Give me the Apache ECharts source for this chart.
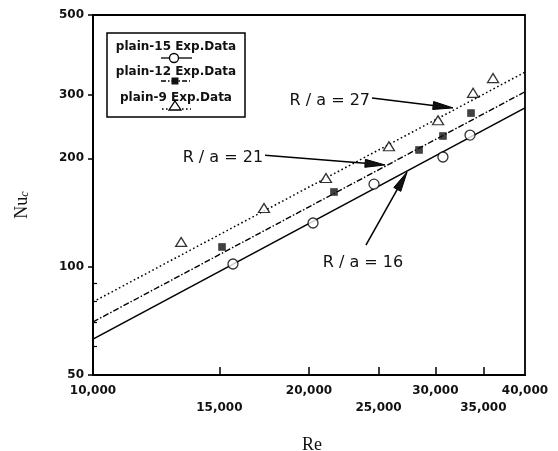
<!DOCTYPE html>
<html><head><meta charset="utf-8">
<script src="https://cdn.jsdelivr.net/npm/echarts@6/dist/echarts.min.js"></script>
<style>html,body{margin:0;padding:0;background:#fff}#c{width:558px;height:451px}</style>
</head><body><div id="c"></div>
<script>
// ---- tick values / labels ----
const xTickValues = [10000, 15000, 20000, 25000, 30000, 35000, 40000];
const xTickLabels = ['10,000', '15,000', '20,000', '25,000', '30,000', '35,000', '40,000'];
const xLowerRow = [15000, 25000, 35000];
const xInnerTicks = [15000, 20000, 25000, 30000, 35000];
const yTickValues = [50, 100, 200, 300, 500];
const yTickLabels = ['50', '100', '200', '300', '500'];
const yMinorTicks = [60, 70, 80, 90];

// ---- experimental data ----
const plain15Re = [15670, 20260, 24640, 30740, 33530];
const plain15Nu = [101.7, 132.2, 169.5, 201.6, 232];
const plain12Re = [15130, 21670, 28470, 30740, 33640];
const plain12Nu = [113.4, 161.2, 210.9, 230.6, 267];
const plain9Re = [13270, 17310, 21120, 25850, 30260, 33860, 36100];
const plain9Nu = [117.1, 145.5, 176.3, 216, 255, 304, 334];

// ---- correlation lines ----
const fitRe = [10000, 40000];
const fit16Nu = [62.9, 276];
const fit21Nu = [70.2, 306];
const fit27Nu = [79.8, 347];

// ---- annotations ----
const annoLabels = ['R / a = 16', 'R / a = 21', 'R / a = 27'];
const arrowFrom = [[24010, 114.8], [17370, 204], [24480, 294]];
const arrowTo = [[27400, 183.2], [25530, 191.6], [31750, 276]];

const legendNames = ['plain-15 Exp.Data', 'plain-12 Exp.Data', 'plain-9 Exp.Data'];

const zip = (a, b) => a.map((v, i) => [v, b[i]]);
const tickFont = { fontFamily: 'DejaVu Sans', fontWeight: 'bold', fontSize: 12, color: '#111' };
const xMin = 10000, xMax = 40000, yMin = 50, yMax = 500;
// keep edge ticks just inside the extent so floating-point log rounding never drops them
const clampIn = (vals, lo, hi) => vals.map(v => Math.min(Math.max(v, lo * 1.000001), hi * 0.999999));
const xLabelOf = v => {
  const i = xTickValues.findIndex(t => Math.abs(t - v) < 1);
  return i >= 0 ? xTickLabels[i] : String(v);
};
const xUpperRow = xTickValues.filter(v => !xLowerRow.includes(v));

const chart = echarts.init(document.getElementById('c'), null, { renderer: 'canvas' });

const gridLeft = 93, gridRight = 33, gridWidth = 558 - gridLeft - gridRight;
const lineBase = { type: 'line', symbol: 'none', silent: true, z: 2 };
const option = {
  animation: false,
  backgroundColor: '#fff',
  grid: { left: gridLeft, right: gridRight, top: 15, bottom: 76, containLabel: false, outerBoundsMode: 'none',
    show: true, borderColor: '#000', borderWidth: 1.8, backgroundColor: 'transparent' },
  xAxis: [{
    type: 'log', logBase: 10, min: xMin, max: xMax,
    name: 'Re', nameLocation: 'middle', nameGap: 61,
    nameTextStyle: { fontFamily: 'Liberation Serif', fontSize: 18, color: '#111', padding: [0, 0, 0, 6] },
    axisLine: { show: true, lineStyle: { color: '#000', width: 2 } },
    axisTick: { show: true, inside: true, length: 8, customValues: xInnerTicks, lineStyle: { color: '#000', width: 1.5 } },
    axisLabel: {
      show: true, customValues: clampIn(xUpperRow, xMin, xMax), margin: 10, ...tickFont,
      showMinLabel: true, showMaxLabel: true, hideOverlap: false, formatter: xLabelOf
    },
    splitLine: { show: false }, minorTick: { show: false }
  }, {
    // staggered second row of tick labels
    type: 'log', logBase: 10, min: xMin, max: xMax, position: 'bottom',
    axisLine: { show: false }, axisTick: { show: false },
    axisLabel: {
      show: true, customValues: xLowerRow, margin: 27, ...tickFont,
      hideOverlap: false, formatter: xLabelOf
    },
    splitLine: { show: false }
  }],
  yAxis: [{
    type: 'log', logBase: 10, min: yMin, max: yMax,
    name: '{n|Nu}{s|c}', nameLocation: 'middle', nameGap: 62, nameRotate: 90,
    nameTextStyle: {
      padding: [0, 0, 0, -20],
      rich: {
        n: { fontFamily: 'Liberation Serif', fontSize: 18, color: '#111', lineHeight: 18 },
        s: { fontFamily: 'Liberation Serif', fontSize: 12, fontStyle: 'italic', color: '#111', lineHeight: 5, verticalAlign: 'bottom' }
      }
    },
    axisLine: { show: true, lineStyle: { color: '#000', width: 2 } },
    axisTick: { show: true, inside: false, length: 5, customValues: yTickValues, lineStyle: { color: '#000', width: 1.5 } },
    axisLabel: {
      show: true, customValues: clampIn(yTickValues, yMin, yMax), margin: 9, ...tickFont,
      showMinLabel: true, showMaxLabel: true,
      formatter: v => {
        const i = yTickValues.findIndex(t => Math.abs(t - v) < 0.01);
        return i >= 0 ? yTickLabels[i] : String(v);
      }
    },
    splitLine: { show: false }
  }, {
    // minor ticks pointing into the plot from the left frame line
    type: 'log', logBase: 10, min: yMin, max: yMax, position: 'right', offset: -gridWidth,
    axisLine: { show: false },
    axisTick: { show: true, inside: false, length: 4, customValues: yMinorTicks, lineStyle: { color: '#000', width: 1.2 } },
    axisLabel: { show: false },
    splitLine: { show: false }
  }],
  series: [
    { ...lineBase, name: 'R/a=16', data: zip(fitRe, fit16Nu), lineStyle: { color: '#000', width: 1.6, type: 'solid' } },
    { ...lineBase, name: 'R/a=21', data: zip(fitRe, fit21Nu), lineStyle: { color: '#000', width: 1.4, type: [6, 2, 1.5, 2] } },
    { ...lineBase, name: 'R/a=27', data: zip(fitRe, fit27Nu), lineStyle: { color: '#000', width: 1.5, type: [1.6, 2.6] } },
    { type: 'scatter', name: legendNames[0], data: zip(plain15Re, plain15Nu), symbol: 'circle', symbolSize: 10,
      itemStyle: { color: '#fff', borderColor: '#000', borderWidth: 1.3 }, z: 3 },
    { type: 'scatter', name: legendNames[1], data: zip(plain12Re, plain12Nu), symbol: 'rect', symbolSize: 7,
      itemStyle: { color: '#111', borderColor: '#000', borderWidth: 0.5 }, z: 3 },
    { type: 'scatter', name: legendNames[2], data: zip(plain9Re, plain9Nu), symbol: 'triangle', symbolSize: [11, 9],
      itemStyle: { color: '#fff', borderColor: '#000', borderWidth: 1.3 }, z: 3 }
  ]
};
chart.setOption(option);

// ---- graphic overlay: legend box + annotations ----
const g = [];
const lx = 107, ly = 33, lw = 138, lh = 84;
g.push({ type: 'rect', shape: { x: lx, y: ly, width: lw, height: lh }, style: { fill: '#fff', stroke: '#000', lineWidth: 1.5 }, z: 10 });
const rowText = [47, 72, 98];
const rowSym = [58, 81, 106];
const legFont = 'bold 12px "DejaVu Sans"';
legendNames.forEach((nm, i) => {
  g.push({ type: 'text', x: 176, y: rowText[i], style: { text: nm, font: legFont, fill: '#111', align: 'center', verticalAlign: 'middle' }, z: 11 });
});
g.push({ type: 'line', shape: { x1: 161, y1: rowSym[0], x2: 192, y2: rowSym[0] }, style: { stroke: '#000', lineWidth: 1.3 }, z: 11 });
g.push({ type: 'circle', shape: { cx: 174, cy: rowSym[0], r: 4.5 }, style: { fill: '#fff', stroke: '#000', lineWidth: 1.3 }, z: 12 });
g.push({ type: 'line', shape: { x1: 161, y1: rowSym[1], x2: 190, y2: rowSym[1] }, style: { stroke: '#000', lineWidth: 1.3, lineDash: [5, 2, 1.5, 2] }, z: 11 });
g.push({ type: 'rect', shape: { x: 171.5, y: rowSym[1] - 3.5, width: 7, height: 7 }, style: { fill: '#111' }, z: 12 });
g.push({ type: 'line', shape: { x1: 162, y1: rowSym[2] + 3, x2: 191, y2: rowSym[2] + 3 }, style: { stroke: '#000', lineWidth: 1.3, lineDash: [1.6, 2.4] }, z: 11 });
g.push({ type: 'polygon', shape: { points: [[175, rowSym[2] - 5], [181, rowSym[2] + 4], [169, rowSym[2] + 4]] }, style: { fill: '#fff', stroke: '#000', lineWidth: 1.3 }, z: 12 });

const annoFont = '16px "DejaVu Sans"';
const toPx = p => chart.convertToPixel({ xAxisIndex: 0, yAxisIndex: 0 }, p);
arrowFrom.forEach((a, i) => {
  const p1 = toPx(a), p2 = toPx(arrowTo[i]);
  const dx = p2[0] - p1[0], dy = p2[1] - p1[1], L = Math.hypot(dx, dy);
  const ux = dx / L, uy = dy / L, nx = -uy, ny = ux;
  const hl = 20, hw = 4;
  const bx = p2[0] - ux * hl, by = p2[1] - uy * hl;
  g.push({ type: 'line', shape: { x1: p1[0], y1: p1[1], x2: bx, y2: by }, style: { stroke: '#000', lineWidth: 1.5 }, z: 8 });
  g.push({ type: 'polygon', shape: { points: [[p2[0], p2[1]], [bx + nx * hw, by + ny * hw], [bx - nx * hw, by - ny * hw]] }, style: { fill: '#111', stroke: '#000', lineWidth: 1 }, z: 8 });
  if (i === 0) {
    g.push({ type: 'text', x: p1[0] - 3, y: p1[1] + 18, style: { text: annoLabels[i], font: annoFont, fill: '#111', align: 'center', verticalAlign: 'middle' }, z: 9 });
  } else {
    g.push({ type: 'text', x: p1[0] - 2, y: p1[1] + 3, style: { text: annoLabels[i], font: annoFont, fill: '#111', align: 'right', verticalAlign: 'middle' }, z: 9 });
  }
});
chart.setOption({ graphic: g });
</script>
</body></html>
